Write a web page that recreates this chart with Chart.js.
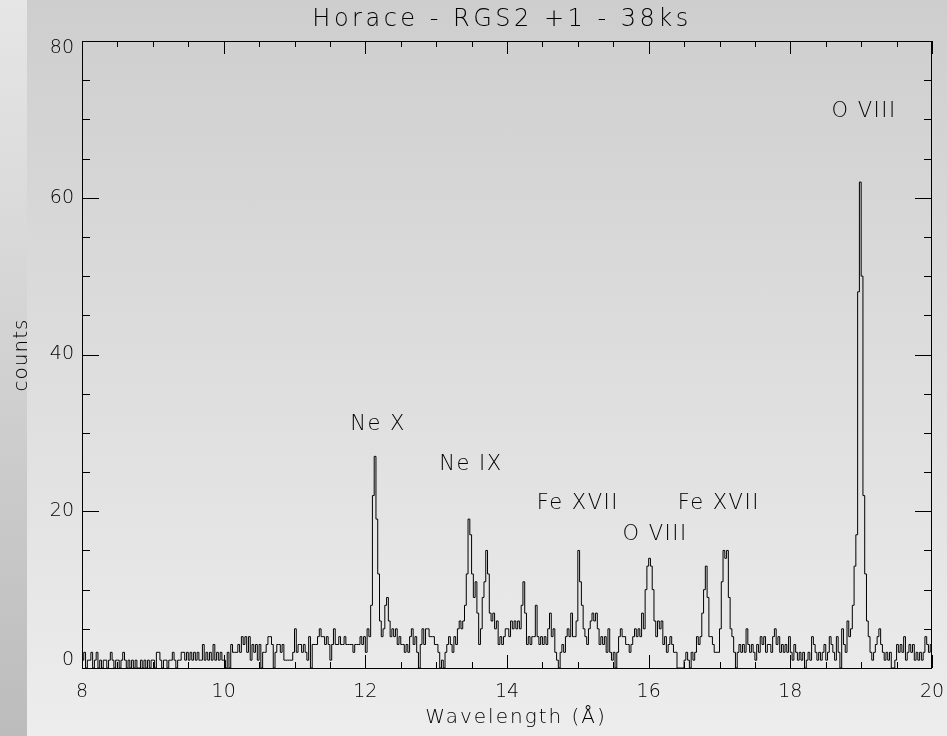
<!DOCTYPE html>
<html>
<head>
<meta charset="utf-8">
<title>Horace - RGS2 +1 - 38ks</title>
<script src="https://cdn.jsdelivr.net/npm/chart.js@4.4.1/dist/chart.umd.min.js"></script>
<style>
  body { margin: 0; }
  #wrap { position: relative; width: 947px; height: 736px; background: linear-gradient(#cecece, #ededed); }
  #strip { position: absolute; left: 0; top: 0; width: 27px; height: 736px; background: linear-gradient(#e6e6e6, #bcbcbc); }
  canvas { position: absolute; left: 0; top: 0; }
</style>
</head>
<body>
<div id="wrap">
  <div id="strip"></div>
  <canvas id="spectrum" width="947" height="736"></canvas>
</div>
<script>
// RGS2 first order, 0.025 A bins starting at 8 A, one row per angstrom
const binStart = 8.0;
const binWidth = 0.025;

const counts8  = [1,2,0,1,1,2,0,1,2,0, 1,0,1,1,0,1,2,1,0,1, 1,0,1,2,1,0,1,0,1,0, 1,0,0,1,0,1,0,1,0,1];
const counts9  = [1,0,2,2,1,0,1,1,0,1, 1,2,1,0,1,1,2,2,1,2, 1,2,1,2,1,2,1,1,3,1, 2,1,2,1,3,1,2,1,2,1];
const counts10 = [1,0,2,0,3,2,2,2,3,2, 4,3,4,2,4,1,3,2,3,1, 3,0,2,2,3,4,4,3,0,2, 3,3,2,3,1,1,1,1,1,2];
const counts11 = [5,2,3,3,2,3,2,1,4,0, 3,3,3,4,5,4,4,3,4,3, 1,3,5,3,3,4,3,3,4,3, 3,3,3,2,3,3,3,4,3,4];
const counts12 = [2,5,4,8,22,27,19,12,6,4, 5,8,9,6,4,5,4,5,3,4, 3,3,2,3,2,4,5,3,4,2, 0,3,5,3,5,5,4,4,4,3];
const counts13 = [3,2,0,1,0,2,3,4,3,2, 4,3,5,6,5,6,8,12,19,17, 12,9,11,7,3,5,9,11,15,12, 7,6,7,5,6,3,4,3,4,5];
const counts14 = [5,4,6,5,6,5,6,5,8,11, 7,3,4,3,4,4,8,4,3,4, 3,4,3,5,7,4,5,2,1,0, 2,3,2,4,5,4,7,4,4,6];
const counts15 = [15,11,8,5,4,3,5,6,7,6, 7,5,3,4,3,4,2,5,2,1, 2,0,2,4,5,4,4,3,3,2, 3,4,5,4,5,4,7,5,10,13];
const counts16 = [14,13,10,6,4,6,5,6,3,4, 2,3,4,3,2,2,0,0,0,0, 1,2,1,0,2,1,2,4,3,4, 7,10,13,9,4,4,3,2,2,2];
const counts17 = [5,11,15,14,15,9,5,4,2,0, 2,3,2,3,2,5,3,2,3,2, 1,3,2,4,3,4,2,3,3,2, 4,5,3,4,2,3,2,3,2,4];
const counts18 = [2,1,3,2,1,2,1,2,0,1, 2,1,4,3,2,1,2,1,2,3, 1,2,4,3,2,1,4,2,0,5, 3,2,6,4,5,8,13,17,48,62];
const counts19 = [50,22,12,6,4,2,1,2,3,4, 5,3,2,1,2,1,2,0,0,1, 3,2,3,2,4,1,2,3,2,3, 1,2,1,2,1,2,4,3,2,3];

// line identifications: label, wavelength (A), height of label (counts)
const lineNames = ["Ne X", "Ne IX", "Fe XVII", "O VIII", "Fe XVII", "O VIII"];
const lineWaves = [12.18, 13.49, 15.0, 16.09, 16.99, 19.04];
const lineLabelCounts = [31, 26, 21, 17, 21, 71];

const counts = [].concat(counts8, counts9, counts10, counts11, counts12, counts13,
  counts14, counts15, counts16, counts17, counts18, counts19);

const points = counts.map((c, i) => ({ x: binStart + i * binWidth, y: c }));
points.push({ x: binStart + counts.length * binWidth, y: counts[counts.length - 1] });

const FONT = "'DejaVu Sans', sans-serif";
const INK = "#000";

const framePlugin = {
  id: "frame",
  afterDatasetsDraw(chart) {
    const { ctx, chartArea: a, scales } = chart;
    const xs = scales.x, ys = scales.y;
    ctx.save();
    ctx.strokeStyle = "#000";
    ctx.lineWidth = 1;
    ctx.strokeRect(a.left + 0.5, a.top + 0.5, a.right - a.left - 1, a.bottom - a.top);

    ctx.beginPath();
    for (let v = xs.min; v <= xs.max + 1e-9; v += 0.5) {
      const px = Math.round(xs.getPixelForValue(v)) + 0.5;
      const len = Math.abs(v % 2) < 1e-9 ? 13 : 6;
      ctx.moveTo(px, a.bottom); ctx.lineTo(px, a.bottom - len);
      ctx.moveTo(px, a.top); ctx.lineTo(px, a.top + len);
    }
    for (let v = ys.min; v <= ys.max + 1e-9; v += 5) {
      const py = Math.round(ys.getPixelForValue(v)) + 0.5;
      const len = v % 20 === 0 ? 17 : 8;
      ctx.moveTo(a.left, py); ctx.lineTo(a.left + len, py);
      ctx.moveTo(a.right, py); ctx.lineTo(a.right - len, py);
    }
    ctx.stroke();

    ctx.fillStyle = INK;
    ctx.textBaseline = "middle";
    ctx.font = "200 19px " + FONT;

    // y tick labels, kept inside the frame at both ends
    ctx.textAlign = "right";
    ys.ticks.forEach((t) => {
      const py = Math.min(Math.max(ys.getPixelForValue(t.value), a.top + 7), a.bottom - 8);
      ctx.fillText(String(t.value), a.left - 8, py);
    });

    // x tick labels
    ctx.textAlign = "center";
    xs.ticks.forEach((t) => {
      ctx.fillText(String(t.value), xs.getPixelForValue(t.value), a.bottom + 24);
    });

    // line labels
    ctx.font = "200 21px " + FONT;
    ctx.letterSpacing = "1.5px";
    lineNames.forEach((name, i) => {
      ctx.fillText(name, xs.getPixelForValue(lineWaves[i]), ys.getPixelForValue(lineLabelCounts[i]));
    });

    // title
    ctx.font = "200 24px " + FONT;
    ctx.letterSpacing = "3.5px";
    ctx.fillText("Horace - RGS2 +1 - 38ks", 502, 20);

    // axis titles
    ctx.font = "200 20px " + FONT;
    ctx.letterSpacing = "2px";
    ctx.fillText("Wavelength (\u00c5)", 516, 718);

    ctx.letterSpacing = "1px";
    ctx.translate(22, 355);
    ctx.rotate(-Math.PI / 2);
    ctx.fillText("counts", 0, 0);
    ctx.restore();
    ctx.letterSpacing = "0px";
  }
};

new Chart(document.getElementById("spectrum"), {
  type: "line",
  data: {
    datasets: [{
      data: points,
      stepped: true,
      borderColor: "#000",
      borderWidth: 1,
      pointRadius: 0,
      fill: false,
    }],
  },
  options: {
    responsive: false,
    animation: false,
    layout: { padding: { top: 41, right: 15, left: 0, bottom: 0 }, autoPadding: false },
    plugins: { legend: { display: false }, tooltip: { enabled: false } },
    scales: {
      x: {
        type: "linear",
        min: 8,
        max: 20,
        ticks: { stepSize: 2, display: false },
        grid: { display: false, drawTicks: false },
        border: { display: false },
        afterFit: (scale) => { scale.height = 68; },
      },
      y: {
        min: 0,
        max: 80,
        ticks: { stepSize: 20, display: false },
        grid: { display: false, drawTicks: false },
        border: { display: false },
        afterFit: (scale) => { scale.width = 82; },
      },
    },
  },
  plugins: [framePlugin],
});
</script>
</body>
</html>
